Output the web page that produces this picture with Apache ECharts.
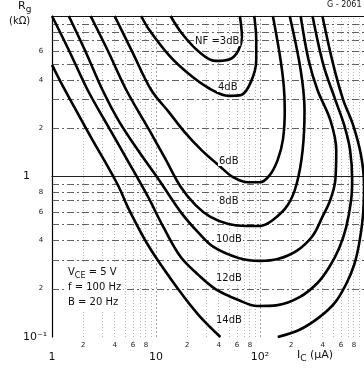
<!DOCTYPE html>
<html lang="en">
<head>
    <meta http-equiv="Content-Type" content="text/html; charset=utf-8"/>
    <title>NF contours</title>
    <script src="https://cdn.jsdelivr.net/npm/echarts@6/dist/echarts.min.js"></script>
</head>
<body style="margin:0;background:#fff;">
<style>
    body {
        font-size: 12px;
    }

    #chart {
        width: 364px;
        height: 368px;
    }
</style>
<div id="chart"></div>
<script type="text/javascript">

  // contours, points are [Ic (uA), Rg (kOhm)]
  var nf3 = [[13.8, 10], [17.7, 7.8], [25.7, 6.0], [37, 5.25], [52, 5.4], [62, 6.1], [67, 7.4], [64, 10]];
  var nf4 = [[7.2, 10], [8.6, 8.2], [13.3, 5.7], [20.6, 4.36], [32, 3.56], [50, 3.18], [66, 3.22], [82, 3.9], [92, 5.3], [92, 7.1], [88, 10]];
  var nf6 = [[4.0, 10], [5.9, 6.0], [9.0, 3.46], [13.3, 2.52], [18.5, 1.92], [27.4, 1.46], [41.6, 1.15], [55, 0.99], [77, 0.92],
    [100, 0.92], [124, 1.02], [148, 1.27], [166, 1.69], [173, 2.59], [169, 3.71], [155, 5.71], [133, 10]];
  var nf8 = [[2.35, 10], [3.49, 5.97], [5.18, 3.46], [8.6, 1.95], [12.2, 1.30], [17.3, 0.86], [24, 0.664], [33.4, 0.56], [49.6, 0.506],
    [75, 0.492], [100, 0.492], [133, 0.536], [185, 0.664], [225, 0.898], [257, 1.46], [268, 2.59], [246, 4.61], [193, 10]];
  var nf10 = [[1.45, 10], [2.11, 5.97], [3.06, 3.46], [4.44, 2.19], [6.9, 1.42], [10.7, 0.95], [17.3, 0.60], [25.7, 0.445], [35.7, 0.364],
    [62, 0.311], [100, 0.298], [148, 0.306], [225, 0.344], [320, 0.426], [398, 0.56], [474, 0.714], [530, 0.95], [541, 1.46],
    [474, 2.25], [357, 3.46], [293, 5.32], [246, 10]];
  var nf12 = [[1, 10], [1.48, 5.97], [2.2, 3.46], [3.41, 2.09], [5.29, 1.27], [8.2, 0.767], [11.9, 0.478], [17.3, 0.315], [25.7, 0.243],
    [37.3, 0.199], [62, 0.170], [94, 0.156], [148, 0.158], [240, 0.177], [357, 0.217], [464, 0.273], [578, 0.359], [674, 0.484],
    [752, 0.714], [769, 0.95], [735, 1.46], [645, 2.09], [530, 3.0], [407, 4.96], [320, 10]];
  var nf14a = [[1, 4.96], [1.33, 3.46], [2.3, 1.82], [4.25, 0.898], [5.53, 0.618], [8.6, 0.364], [16.6, 0.196], [25.7, 0.137], [41.6, 0.1]];
  var nf14b = [[148, 0.1], [240, 0.111], [373, 0.133], [530, 0.165], [674, 0.214], [803, 0.281], [896, 0.379], [978, 0.575],
    [1000, 0.885], [935, 1.36], [786, 2.09], [631, 3.0], [507, 4.96], [398, 10]];

  var xMajor = [1, 10, 100];
  var xMajorText = ['1', '10', '10²'];
  var xMinor = [2, 4, 6, 8, 20, 40, 60, 80, 200, 400, 600, 800];
  var yMajor = [0.1, 1];
  var yMajorText = ['10⁻¹', '1'];
  var yMinor = [0.2, 0.4, 0.6, 0.8, 2, 4, 6];
  var gridSteps = [2, 3, 4, 5, 6, 7, 8, 9];

  var FONT = 'DejaVu Sans';

  function lg(v) {
    return Math.log10(v);
  }

  function toLog(points) {
    return points.map(function (p) {
      return [lg(p[0]), lg(p[1])];
    });
  }

  // axis value is log10, label shows the leading digit only
  function minorText(v) {
    var d = Math.floor(v + 1e-9);
    return String(Math.round(Math.pow(10, v - d)));
  }

  function gridLines() {
    var lines = [];
    [1, 10, 100].forEach(function (d) {
      gridSteps.forEach(function (k) {
        lines.push({xAxis: lg(k * d), lineStyle: {color: '#9a9a9a', width: 0.7, type: [1, 2]}});
      });
      if (d > 1) lines.push({xAxis: lg(d), lineStyle: {color: '#888', width: 0.8, type: [2, 2]}});
    });
    [0.1, 1].forEach(function (d) {
      gridSteps.forEach(function (k) {
        lines.push({yAxis: lg(k * d), lineStyle: {color: '#3a3a3a', width: 0.8, type: [7, 3, 2, 3]}});
      });
    });
    lines.push({yAxis: 0, lineStyle: {color: '#222', width: 1, type: 'solid'}});
    lines.push({yAxis: 1, lineStyle: {color: '#111', width: 1.2, type: 'solid'}});
    return lines;
  }

  function curve(name, points) {
    return {
      name: name,
      type: 'line',
      data: toLog(points),
      smooth: 0.35,
      symbol: 'none',
      z: 5,
      lineStyle: {color: '#000', width: 2.6},
      silent: true
    };
  }

  function tag(text, x, y, size) {
    return {
      type: 'text', left: x, top: y, z: 20,
      style: {text: text, font: (size || 10) + 'px ' + FONT, fill: '#111', backgroundColor: '#fff', padding: [0, 1]}
    };
  }

  var myChart = echarts.init(document.getElementById('chart'));
  var option = {
    animation: false,
    backgroundColor: '#fff',
    grid: {left: 52, right: -3, top: 16, bottom: 31},
    xAxis: [{
      type: 'value', min: 0, max: 3, position: 'bottom',
      axisLine: {lineStyle: {color: '#000', width: 1.2}},
      axisTick: {show: false},
      splitLine: {show: false},
      axisLabel: {
        customValues: xMinor.map(lg), margin: 5, fontSize: 7, fontFamily: FONT, color: '#222',
        formatter: function (v) { return minorText(v); }
      }
    }, {
      type: 'value', min: 0, max: 3, position: 'bottom',
      axisLine: {show: false}, axisTick: {show: false}, splitLine: {show: false},
      axisLabel: {
        customValues: xMajor.map(lg), margin: 15, fontSize: 11, fontFamily: FONT, color: '#111',
        formatter: function (v) { return xMajorText[Math.round(v)]; }
      }
    }],
    yAxis: [{
      type: 'value', min: -1, max: 1, position: 'left',
      axisLine: {lineStyle: {color: '#000', width: 1.2}},
      axisTick: {show: false},
      splitLine: {show: false},
      axisLabel: {
        customValues: yMinor.map(lg), margin: 11, fontSize: 7, fontFamily: FONT, color: '#222', align: 'center',
        formatter: function (v) { return minorText(v); }
      }
    }, {
      type: 'value', min: -1, max: 1, position: 'left',
      axisLine: {show: false}, axisTick: {show: false}, splitLine: {show: false},
      axisLabel: {
        customValues: yMajor.map(lg), margin: 29, fontSize: 11, fontFamily: FONT, color: '#111', align: 'left',
        formatter: function (v) { return yMajorText[Math.round(v) + 1]; }
      }
    }],
    series: [
      {
        type: 'line', data: [], symbol: 'none', z: 1, silent: true,
        markLine: {silent: true, symbol: 'none', label: {show: false}, animation: false, data: gridLines()}
      },
      curve('3dB', nf3),
      curve('4dB', nf4),
      curve('6dB', nf6),
      curve('8dB', nf8),
      curve('10dB', nf10),
      curve('12dB', nf12),
      curve('14dB', nf14a),
      curve('14dB', nf14b)
    ],
    graphic: [
      tag('NF =3dB', 194, 36),
      tag('4dB', 217, 82),
      tag('6dB', 218, 156),
      tag('8dB', 218, 196),
      tag('10dB', 215, 234),
      tag('12dB', 215, 273),
      tag('14dB', 215, 315),
      {
        type: 'text', left: 66, top: 264, z: 20,
        style: {
          text: '{n|V}{s|CE}{n| = 5 V}\n{n|f = 100 Hz}\n{n|B = 20 Hz}',
          backgroundColor: '#fff', padding: [1, 2],
          rich: {
            n: {font: '10px ' + FONT, fill: '#111', lineHeight: 15},
            s: {font: '8px ' + FONT, fill: '#111', padding: [6, 0, 0, 0], lineHeight: 15}
          }
        }
      },
      {
        type: 'text', left: 18, top: 1, z: 20,
        style: {text: '{n|R}{s|g}', rich: {n: {font: '11px ' + FONT, fill: '#111'}, s: {font: '9px ' + FONT, fill: '#111', padding: [6, 0, 0, 0]}}}
      },
      tag('(kΩ)', 8, 16, 10),
      tag('G - 2061', 326, 1, 8),
      {
        type: 'text', left: 297, top: 350, z: 20,
        style: {text: '{n|I}{s|C}{n| (μA)}', rich: {n: {font: '11px ' + FONT, fill: '#111'}, s: {font: '9px ' + FONT, fill: '#111', padding: [6, 0, 0, 0]}}}
      }
    ]
  };
  myChart.setOption(option);
</script>
</body>
</html>
